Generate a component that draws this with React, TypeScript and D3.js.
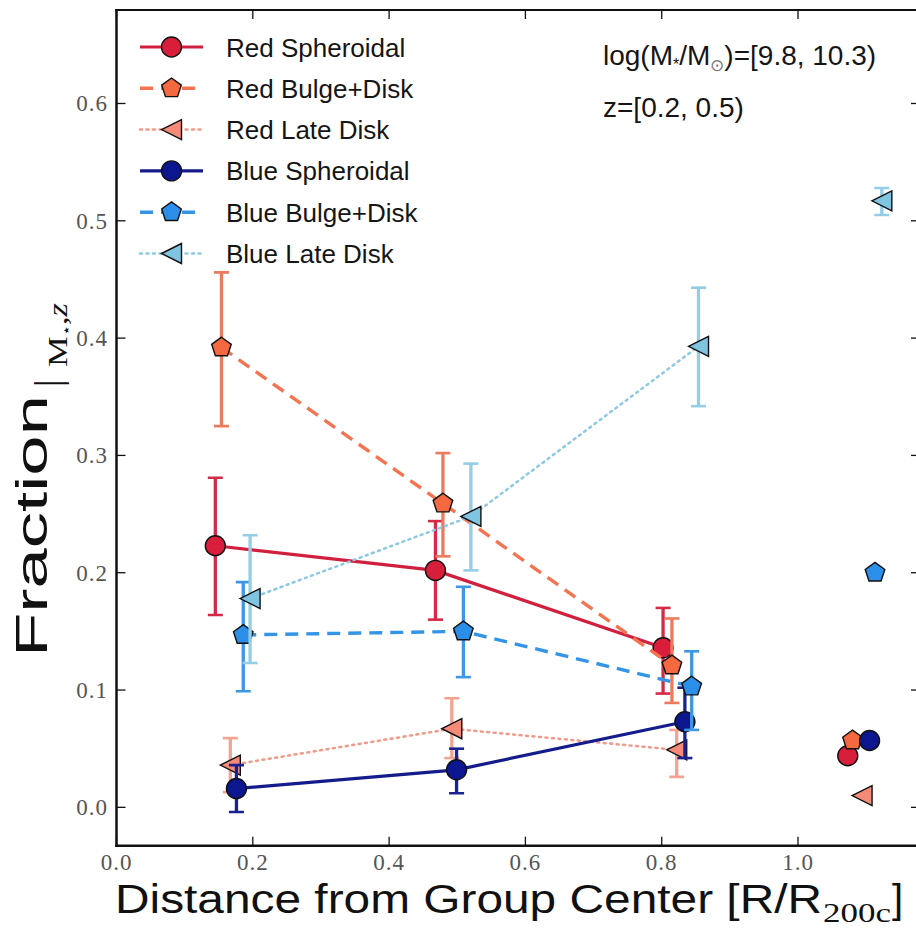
import React from "react";
import * as d3 from "d3";

// ---------- data ----------
const xTicks = [0, 0.2, 0.4, 0.6, 0.8, 1.0];
const yTicks = [0, 0.1, 0.2, 0.3, 0.4, 0.5, 0.6];

const redSphX = [0.145, 0.468, 0.802];
const redSphY = [0.223, 0.202, 0.136];
const redSphLo = [0.164, 0.160, 0.097];
const redSphHi = [0.281, 0.244, 0.170];

const redBDX = [0.154, 0.479, 0.815];
const redBDY = [0.392, 0.259, 0.121];
const redBDLo = [0.325, 0.214, 0.089];
const redBDHi = [0.456, 0.302, 0.161];

const redLDX = [0.167, 0.492, 0.822];
const redLDY = [0.036, 0.067, 0.049];
const redLDLo = [0.013, 0.042, 0.026];
const redLDHi = [0.059, 0.093, 0.066];

const blueSphX = [0.176, 0.499, 0.834];
const blueSphY = [0.016, 0.032, 0.073];
const blueSphLo = [-0.004, 0.012, 0.042];
const blueSphHi = [0.036, 0.050, 0.102];

const blueBDX = [0.186, 0.509, 0.844];
const blueBDY = [0.147, 0.150, 0.103];
const blueBDLo = [0.099, 0.111, 0.066];
const blueBDHi = [0.192, 0.188, 0.133];

const blueLDX = [0.196, 0.520, 0.854];
const blueLDY = [0.178, 0.248, 0.393];
const blueLDLo = [0.123, 0.202, 0.342];
const blueLDHi = [0.232, 0.293, 0.443];

// field (unconnected) points: [x, y, lo, hi]
const fieldRedSph = [1.073, 0.044, 0.044, 0.044];
const fieldRedBD = [1.080, 0.057, 0.057, 0.057];
const fieldRedLD = [1.094, 0.010, 0.010, 0.010];
const fieldBlueSph = [1.105, 0.057, 0.057, 0.057];
const fieldBlueBD = [1.113, 0.200, 0.200, 0.200];
const fieldBlueLD = [1.123, 0.517, 0.505, 0.528];

type Series = {
  name: string;
  xs: number[];
  ys: number[];
  lo: number[];
  hi: number[];
  field: number[];
  color: string;
  lineColor: string;
  errColor: string;
  marker: "circle" | "pentagon" | "triangle";
  dash: string | null;
  lw: number;
};

const series: Series[] = [
  { name: "Red Spheroidal", xs: redSphX, ys: redSphY, lo: redSphLo, hi: redSphHi, field: fieldRedSph,
    color: "#d91e3c", lineColor: "#d1203f", errColor: "#d42a46", marker: "circle", dash: null, lw: 3.2 },
  { name: "Red Bulge+Disk", xs: redBDX, ys: redBDY, lo: redBDLo, hi: redBDHi, field: fieldRedBD,
    color: "#f4693f", lineColor: "#f47350", errColor: "#ec7a5e", marker: "pentagon", dash: "13,8", lw: 3.4 },
  { name: "Red Late Disk", xs: redLDX, ys: redLDY, lo: redLDLo, hi: redLDHi, field: fieldRedLD,
    color: "#f58a78", lineColor: "#f29a8a", errColor: "#f4a392", marker: "triangle", dash: "2,4.5", lw: 2.5 },
  { name: "Blue Spheroidal", xs: blueSphX, ys: blueSphY, lo: blueSphLo, hi: blueSphHi, field: fieldBlueSph,
    color: "#0c168f", lineColor: "#141c8c", errColor: "#1a2291", marker: "circle", dash: null, lw: 3.2 },
  { name: "Blue Bulge+Disk", xs: blueBDX, ys: blueBDY, lo: blueBDLo, hi: blueBDHi, field: fieldBlueBD,
    color: "#2b8ee8", lineColor: "#3494e6", errColor: "#3d97e4", marker: "pentagon", dash: "13,8", lw: 3.4 },
  { name: "Blue Late Disk", xs: blueLDX, ys: blueLDY, lo: blueLDLo, hi: blueLDHi, field: fieldBlueLD,
    color: "#7fc4e0", lineColor: "#8ec9e2", errColor: "#93cde6", marker: "triangle", dash: "2,4.5", lw: 2.5 },
];

// ---------- layout ----------
const W = 916;
const H = 935;
const plotL = 116.5;
const plotR = 920;
const plotT = 10;
const plotB = 845.7;

const x = d3.scaleLinear().domain([0, 1.179]).range([plotL, plotR]);
const y = d3.scaleLinear().domain([-0.0327, 0.6797]).range([plotB, plotT]);

const MS = 10;

function pentagonPath(r: number) {
  const pts = d3.range(5).map((k) => {
    const a = (-90 + k * 72) * (Math.PI / 180);
    return [r * Math.cos(a), r * Math.sin(a)];
  });
  return "M" + pts.map((p) => p[0].toFixed(2) + "," + p[1].toFixed(2)).join("L") + "Z";
}
const triPath = `M${-MS},0L${MS},${-MS}L${MS},${MS}Z`;

function Marker({ kind, cx, cy, fill }: { kind: string; cx: number; cy: number; fill: string }) {
  const common = { fill, stroke: "#111", strokeWidth: 1.4 };
  if (kind === "circle") return <circle cx={cx} cy={cy} r={MS} {...common} />;
  if (kind === "pentagon")
    return <path d={pentagonPath(MS * 1.03)} transform={`translate(${cx},${cy})`} {...common} />;
  return <path d={triPath} transform={`translate(${cx},${cy})`} {...common} />;
}

function ErrBar({ cx, lo, hi, color }: { cx: number; lo: number; hi: number; color: string }) {
  if (Math.abs(y(lo) - y(hi)) < 1) return null;
  const cw = 7.5;
  return (
    <g stroke={color} fill="none">
      <line x1={cx} x2={cx} y1={y(lo)} y2={y(hi)} strokeWidth={3.3} />
      <line x1={cx - cw} x2={cx + cw} y1={y(lo)} y2={y(lo)} strokeWidth={2.6} />
      <line x1={cx - cw} x2={cx + cw} y1={y(hi)} y2={y(hi)} strokeWidth={2.6} />
    </g>
  );
}

const legendY0 = 47;
const legendDY = 41.3;

export default function App() {
  return (
    <svg
      width={W}
      height={H}
      style={{ position: "absolute", left: 0, top: 0, background: "#fff" }}
      xmlns="http://www.w3.org/2000/svg"
    >
      <rect x={0} y={0} width={W} height={H} fill="#fff" />
      <defs>
        <clipPath id="plotclip">
          <rect x={plotL} y={plotT} width={plotR - plotL} height={plotB - plotT} />
        </clipPath>
      </defs>

      {/* data */}
      <g clipPath="url(#plotclip)">
        {series.map((s) => {
          const pts = s.xs.map((xv, i) => [x(xv), y(s.ys[i])] as [number, number]);
          const path = d3.line()(pts) || "";
          return (
            <g key={s.name}>
              {s.xs.map((xv, i) => (
                <ErrBar key={i} cx={x(xv)} lo={s.lo[i]} hi={s.hi[i]} color={s.errColor} />
              ))}
              <ErrBar cx={x(s.field[0])} lo={s.field[2]} hi={s.field[3]} color={s.errColor} />
              <path
                d={path}
                fill="none"
                stroke={s.lineColor}
                strokeWidth={s.lw}
                strokeDasharray={s.dash || undefined}
                strokeLinecap={s.dash === "2,4.5" ? "round" : "butt"}
              />
              {pts.map((p, i) => (
                <Marker key={i} kind={s.marker} cx={p[0]} cy={p[1]} fill={s.color} />
              ))}
              <Marker kind={s.marker} cx={x(s.field[0])} cy={y(s.field[1])} fill={s.color} />
            </g>
          );
        })}
      </g>

      {/* axes frame */}
      <g stroke="#111" fill="none">
        <line x1={plotL} x2={plotL} y1={plotT - 1} y2={plotB + 1.2} strokeWidth={2.5} />
        <line x1={plotL - 1.2} x2={plotR} y1={plotB} y2={plotB} strokeWidth={2.5} />
        <line x1={plotL - 1.2} x2={plotR} y1={plotT} y2={plotT} strokeWidth={2.2} />
        <line x1={plotR} x2={plotR} y1={plotT} y2={plotB} strokeWidth={2.5} />
        {xTicks.map((t) => (
          <g key={"xt" + t}>
            <line x1={x(t)} x2={x(t)} y1={plotB} y2={plotB - 9} strokeWidth={1.3} />
            <line x1={x(t)} x2={x(t)} y1={plotT} y2={plotT + 9} strokeWidth={1.3} />
          </g>
        ))}
        {yTicks.map((t) => (
          <g key={"yt" + t}>
            <line x1={plotL} x2={plotL + 9} y1={y(t)} y2={y(t)} strokeWidth={1.3} />
            <line x1={plotR} x2={plotR - 9} y1={y(t)} y2={y(t)} strokeWidth={1.3} />
          </g>
        ))}
      </g>

      {/* tick labels */}
      <g fontFamily="'Liberation Serif', serif" fontSize={23} fill="#555" letterSpacing={1}>
        {xTicks.map((t) => (
          <text key={"xl" + t} x={x(t)} y={870} textAnchor="middle">
            {d3.format(".1f")(t)}
          </text>
        ))}
        {yTicks.map((t) => (
          <text key={"yl" + t} x={108} y={y(t) + 8} textAnchor="end">
            {d3.format(".1f")(t)}
          </text>
        ))}
      </g>

      {/* x label */}
      <g fill="#111">
        <text
          x={115}
          y={913}
          fontFamily="'Liberation Sans', Arial, sans-serif"
          fontSize={40}
          textLength={707}
          lengthAdjust="spacingAndGlyphs"
        >
          Distance from Group Center [R/R
        </text>
        <text
          x={823}
          y={922}
          fontFamily="'Liberation Serif', serif"
          fontSize={27}
          textLength={68}
          lengthAdjust="spacingAndGlyphs"
        >
          200c
        </text>
        <text x={892} y={913} fontFamily="'Liberation Sans', Arial, sans-serif" fontSize={40}>
          ]
        </text>
      </g>

      {/* y label */}
      <g transform="translate(47,657) rotate(-90)" fill="#111">
        <text
          x={0}
          y={0}
          fontFamily="'Liberation Sans', Arial, sans-serif"
          fontSize={44}
          textLength={262}
          lengthAdjust="spacingAndGlyphs"
        >
          Fraction
        </text>
        <text x={270} y={14} fontFamily="'Liberation Serif', serif" fontSize={38}>
          |
        </text>
        <text
          x={290}
          y={20}
          fontFamily="'Liberation Serif', serif"
          fontSize={27}
          textLength={64}
          lengthAdjust="spacingAndGlyphs"
        >
          M<tspan fontSize={14} dy={4}>⋆</tspan>
          <tspan dy={-4}>,</tspan>
          <tspan fontStyle="italic">z</tspan>
        </text>
      </g>

      {/* legend */}
      <g>
        {series.map((s, i) => {
          const cy = legendY0 + i * legendDY;
          return (
            <g key={"lg" + s.name}>
              <line
                x1={140}
                x2={203}
                y1={cy}
                y2={cy}
                stroke={s.lineColor}
                strokeWidth={s.lw}
                strokeDasharray={s.dash || undefined}
                strokeLinecap={s.dash === "2,4.5" ? "round" : "butt"}
              />
              <Marker kind={s.marker} cx={171.5} cy={cy} fill={s.color} />
              <text
                x={226}
                y={cy + 9.5}
                fontFamily="'Liberation Sans', Arial, sans-serif"
                fontSize={26}
                fill="#151515"
              >
                {s.name}
              </text>
            </g>
          );
        })}
      </g>

      {/* annotation */}
      <g fontFamily="'Liberation Sans', Arial, sans-serif" fontSize={28} fill="#151515">
        <text x={603} y={65}>
          log(M<tspan fontSize={16} dy={5}>*</tspan>
          <tspan dy={-5}>/M</tspan>
          <tspan fontSize={17} dy={6} fill="#777">⊙</tspan>
          <tspan dy={-6}>)=[9.8, 10.3)</tspan>
        </text>
        <text x={603} y={117}>
          z=[0.2, 0.5)
        </text>
      </g>
    </svg>
  );
}
